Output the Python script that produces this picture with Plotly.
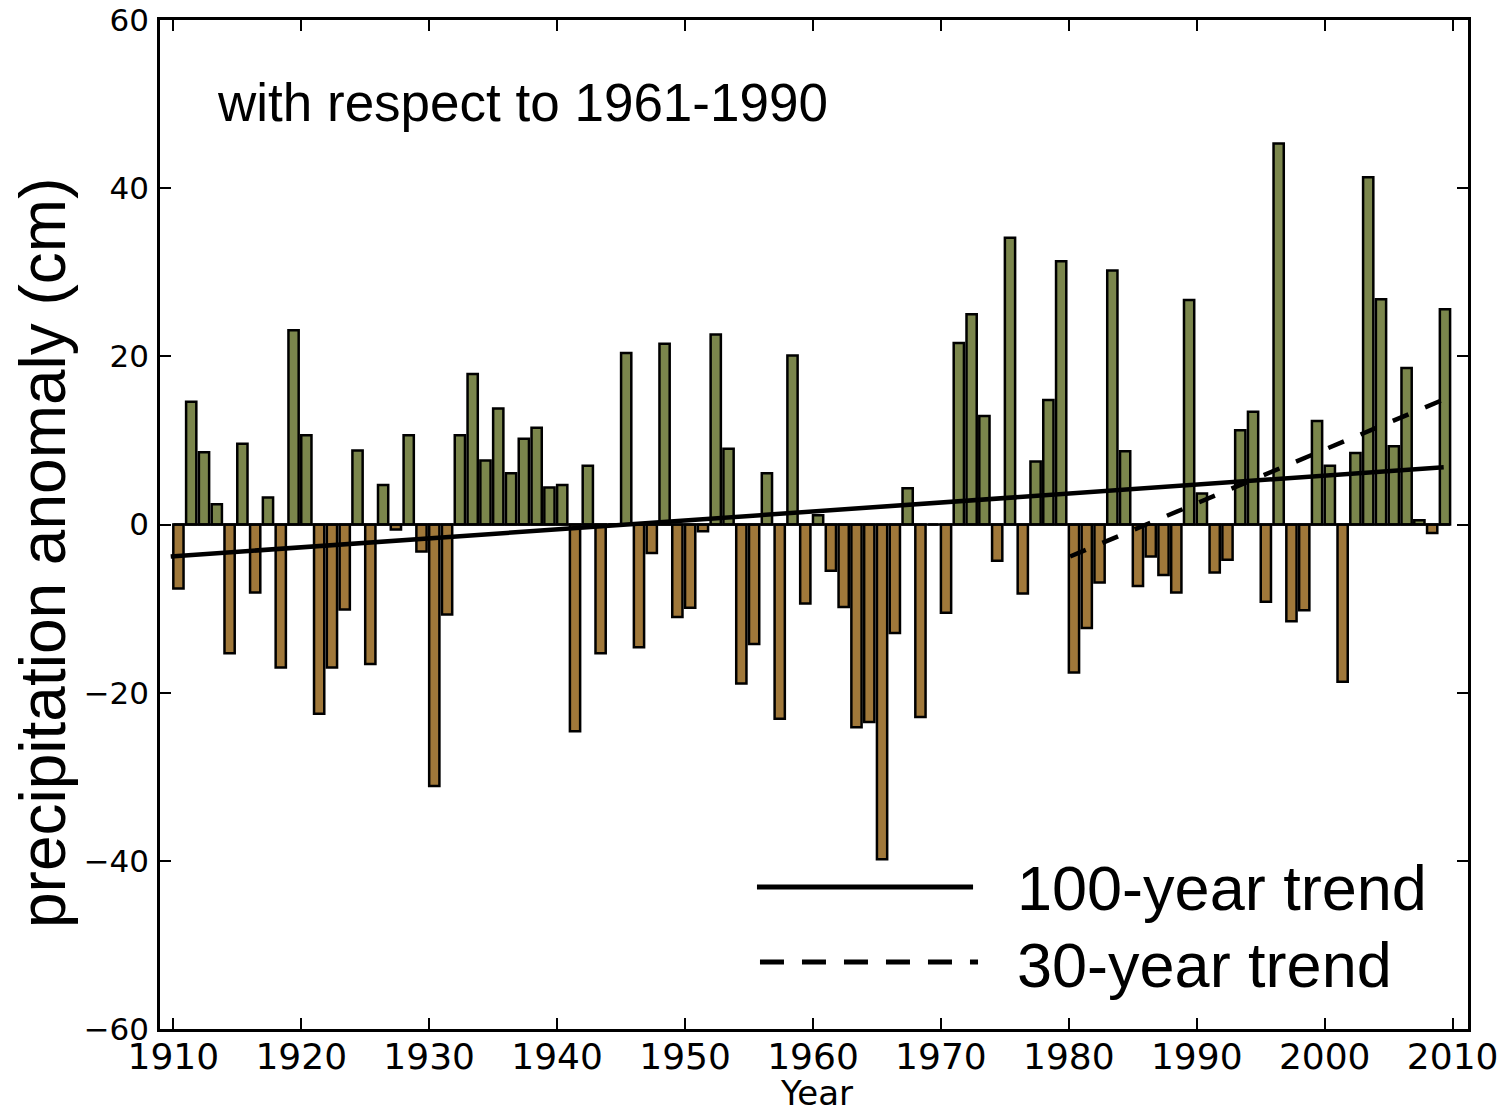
import plotly.graph_objects as go

# ---------------- data ----------------
years = list(range(1910, 2010))
anomaly = [
    -7.6, 14.6, 8.6, 2.4, -15.3, 9.6, -8.1, 3.2, -17.0, 23.1,      # 1910-1919
    10.6, -22.5, -17.0, -10.1, 8.8, -16.6, 4.7, -0.6, 10.6, -3.2,  # 1920-1929
    -31.1, -10.7, 10.6, 17.9, 7.6, 13.8, 6.1, 10.2, 11.5, 4.4,     # 1930-1939
    4.7, -24.6, 7.0, -15.3, 0.0, 20.4, -14.6, -3.4, 21.5, -11.0,   # 1940-1949
    -9.9, -0.8, 22.6, 9.0, -18.9, -14.2, 6.1, -23.1, 20.1, -9.4,   # 1950-1959
    1.1, -5.5, -9.8, -24.1, -23.5, -39.8, -12.9, 4.3, -22.9, 0.0,  # 1960-1969
    -10.5, 21.6, 25.0, 12.9, -4.3, 34.1, -8.2, 7.5, 14.8, 31.3,    # 1970-1979
    -17.6, -12.3, -6.9, 30.2, 8.7, -7.3, -3.8, -6.0, -8.1, 26.7,   # 1980-1989
    3.7, -5.7, -4.2, 11.2, 13.4, -9.2, 45.3, -11.5, -10.2, 12.3,   # 1990-1999
    7.0, -18.7, 8.5, 41.3, 26.8, 9.3, 18.6, 0.5, -1.0, 25.6,       # 2000-2009
]
trend100_x = [1909.8, 2009.3]
trend100_y = [-3.8, 6.8]
trend30_x = [1980.1, 2009.2]
trend30_y = [-3.8, 14.8]

x_ticks = list(range(1910, 2011, 10))
y_ticks = [-60, -40, -20, 0, 20, 40, 60]
y_ticktext = ["\u221260", "\u221240", "\u221220", "0", "20", "40", "60"]

# ---------------- style ----------------
GREEN = "#7b864c"
BROWN = "#a0783a"
colors = [GREEN if v >= 0 else BROWN for v in anomaly]
TICKFONT = "DejaVu Sans"
TEXTFONT = "Liberation Sans, Arial, sans-serif"

fig = go.Figure()
fig.add_trace(go.Bar(
    x=years, y=anomaly, width=0.8, offset=0,
    marker=dict(color=colors, line=dict(color="black", width=2.5)),
    hoverinfo="x+y",
))
# baseline formed by bar edges
fig.add_trace(go.Scatter(
    x=[years[0], years[-1] + 0.8], y=[0, 0], mode="lines",
    line=dict(color="black", width=2.5), hoverinfo="skip",
))
fig.add_trace(go.Scatter(
    x=trend100_x, y=trend100_y, mode="lines",
    line=dict(color="black", width=4.5), name="100-year trend",
))
fig.add_trace(go.Scatter(
    x=trend30_x, y=trend30_y, mode="lines",
    line=dict(color="black", width=4.5, dash="17px,18px"), name="30-year trend",
))

axis_common = dict(
    showgrid=False, zeroline=False, showline=True, linecolor="black", linewidth=2.5,
    mirror="allticks", ticks="inside", ticklen=11, tickwidth=1.5, tickcolor="black",
    automargin=False,
)
fig.update_xaxes(
    range=[1908.96, 2011.2], tickvals=x_ticks,
    tickfont=dict(family=TICKFONT, size=36, color="black"),
    ticklabelstandoff=-6,
    **axis_common,
)
fig.update_yaxes(
    range=[-60, 60], tickvals=y_ticks, ticktext=y_ticktext,
    tickfont=dict(family=TICKFONT, size=31, color="black"),
    ticklabelstandoff=2,
    **axis_common,
)

# manual legend
fig.add_shape(type="line", xref="paper", yref="paper",
              x0=0.4564, x1=0.6216, y0=0.1407, y1=0.1407,
              line=dict(color="black", width=5))
fig.add_shape(type="line", xref="paper", yref="paper",
              x0=0.4587, x1=0.6254, y0=0.0664, y1=0.0664,
              line=dict(color="black", width=5, dash="24px,18px"))

ann = [
    dict(text="with respect to 1961-1990", x=0.042, y=0.9187, xanchor="left", yanchor="middle",
         font=dict(family=TEXTFONT, size=53, color="black")),
    dict(text="100-year trend", x=0.6537, y=0.1397, xanchor="left", yanchor="middle",
         font=dict(family=TEXTFONT, size=63, color="black")),
    dict(text="30-year trend", x=0.6537, y=0.0634, xanchor="left", yanchor="middle",
         font=dict(family=TEXTFONT, size=63, color="black")),
    dict(text="precipitation anomaly (cm)", x=-0.0894, y=0.4718, xanchor="center", yanchor="middle",
         textangle=-90, font=dict(family=TEXTFONT, size=64, color="black")),
    dict(text="Year", x=0.502, y=-0.0634, xanchor="center", yanchor="middle",
         font=dict(family=TICKFONT, size=34, color="black")),
]
for a in ann:
    fig.add_annotation(xref="paper", yref="paper", showarrow=False, **a)

fig.update_layout(
    width=1508, height=1113, autosize=False,
    margin=dict(l=160, r=40, t=20, b=84),
    plot_bgcolor="white", paper_bgcolor="white",
    showlegend=False,
)

fig.write_html("out.html")
